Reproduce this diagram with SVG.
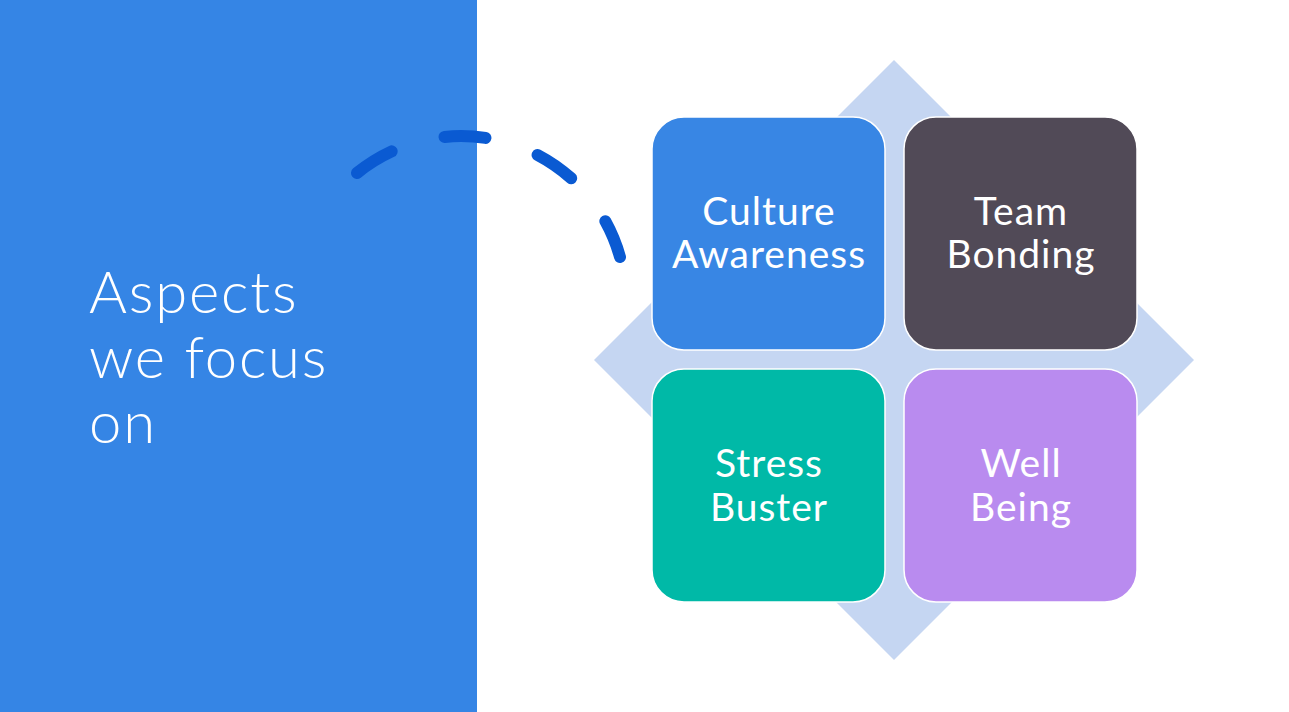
<svg xmlns="http://www.w3.org/2000/svg" width="1289" height="712" viewBox="0 0 1289 712">
<style>
.box{stroke:#ffffff;stroke-width:1.5}
.lbl{font-family:Lato,"Open Sans","Liberation Sans",sans-serif;font-size:39px;fill:#ffffff;text-anchor:middle;font-weight:400;letter-spacing:1px}
.title{font-family:Lato,"Open Sans","Liberation Sans",sans-serif;font-size:58px;fill:#ffffff;font-weight:300;letter-spacing:1.8px}
</style>
<rect x="0" y="0" width="1289" height="712" fill="#ffffff"/>
<rect id="panel" x="0" y="0" width="477" height="712" fill="#3585E5"/>
<g id="title">
<text class="title" x="89" y="313">Aspects</text>
<text class="title" x="89" y="378">we focus</text>
<text class="title" x="89" y="443">on</text>
</g>
<polygon id="diamond" points="894,60 1194,360 894,660 594,360" fill="#C5D6F2"/>
<g id="connectors">
<path d="M 357 173 A 165 165 0 0 1 620 257" fill="none" stroke="#0A5AD2" stroke-width="12" stroke-linecap="round" stroke-dasharray="41 55"/>
</g>
<g id="culture">
<rect class="box" x="652" y="117" width="233" height="233" rx="32" fill="#3886E4"/>
<text class="lbl" x="769" y="225">Culture</text>
<text class="lbl" x="769" y="268">Awareness</text>
</g>
<g id="team">
<rect class="box" x="904" y="117" width="233" height="233" rx="32" fill="#514A57"/>
<text class="lbl" x="1021" y="225">Team</text>
<text class="lbl" x="1021" y="268">Bonding</text>
</g>
<g id="stress">
<rect class="box" x="652" y="369" width="233" height="233" rx="32" fill="#00B9A7"/>
<text class="lbl" x="769" y="477">Stress</text>
<text class="lbl" x="769" y="521">Buster</text>
</g>
<g id="well">
<rect class="box" x="904" y="369" width="233" height="233" rx="32" fill="#B98BEF"/>
<text class="lbl" x="1021" y="477">Well</text>
<text class="lbl" x="1021" y="521">Being</text>
</g>
</svg>
